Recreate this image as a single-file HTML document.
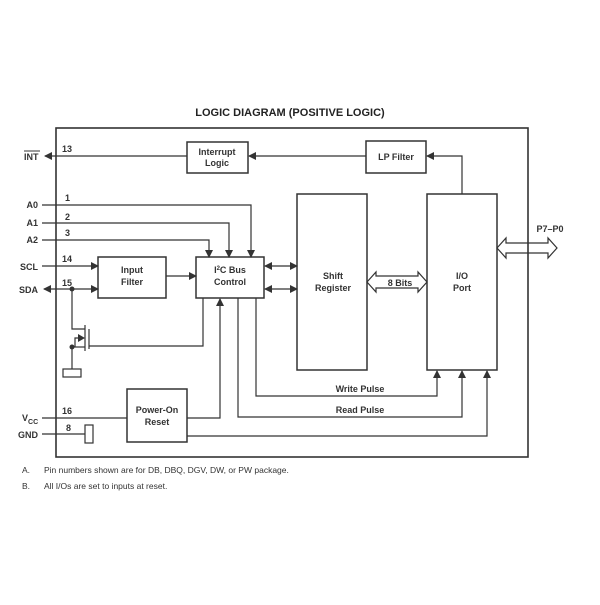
<!DOCTYPE html>
<html><head><style>
body{margin:0;background:#fff}
svg text{font-family:"Liberation Sans",sans-serif;fill:#333}
</style></head><body>
<svg width="600" height="600" viewBox="0 0 600 600" xmlns="http://www.w3.org/2000/svg">
<defs>
<marker id="a" markerWidth="8" markerHeight="8" refX="7" refY="4" orient="auto" markerUnits="userSpaceOnUse"><path d="M0,0 L8,4 L0,8 z" fill="#333"/></marker>
<marker id="s" markerWidth="8" markerHeight="8" refX="1" refY="4" orient="auto" markerUnits="userSpaceOnUse"><path d="M8,0 L0,4 L8,8 z" fill="#333"/></marker>
</defs>
<text x="290" y="116" font-size="11" font-weight="bold" text-anchor="middle" style="fill:#222">LOGIC DIAGRAM (POSITIVE LOGIC)</text>
<g stroke="#333" fill="none" stroke-width="1.2">
<rect x="56" y="128" width="472" height="329" stroke-width="1.6"/>
<rect x="187" y="142" width="61" height="31" stroke-width="1.5"/>
<rect x="366" y="141" width="60" height="32" stroke-width="1.5"/>
<rect x="297" y="194" width="70" height="176" stroke-width="1.5"/>
<rect x="427" y="194" width="70" height="176" stroke-width="1.5"/>
<rect x="98" y="257" width="68" height="41" stroke-width="1.5"/>
<rect x="196" y="257" width="68" height="41" stroke-width="1.5"/>
<rect x="127" y="389" width="60" height="53" stroke-width="1.5"/>
<line x1="187" y1="156" x2="45" y2="156" marker-end="url(#a)"/>
<line x1="366" y1="156" x2="249" y2="156" marker-end="url(#a)"/>
<polyline points="462,194 462,156 427,156" marker-end="url(#a)"/>
<polyline points="42,205 251,205 251,257" marker-end="url(#a)"/>
<polyline points="42,223 229,223 229,257" marker-end="url(#a)"/>
<polyline points="42,240 209,240 209,257" marker-end="url(#a)"/>
<line x1="42" y1="266" x2="98" y2="266" marker-end="url(#a)"/>
<line x1="44" y1="289" x2="98" y2="289" marker-start="url(#s)" marker-end="url(#a)"/>
<line x1="166" y1="276" x2="196" y2="276" marker-end="url(#a)"/>
<line x1="265" y1="266" x2="297" y2="266" marker-start="url(#s)" marker-end="url(#a)"/>
<line x1="265" y1="289" x2="297" y2="289" marker-start="url(#s)" marker-end="url(#a)"/>
<polyline points="72,289 72,329 85,329"/>
<polyline points="72,347 85,347"/>
<polyline points="75,347 75,338 80,338"/>
<line x1="85" y1="325" x2="85" y2="351"/>
<line x1="89" y1="329" x2="89" y2="349"/>
<polyline points="203,298 203,346 89,346"/>
<line x1="72" y1="347" x2="72" y2="369"/>
<rect x="63" y="369" width="18" height="8"/>
<polyline points="187,418 220,418 220,299" marker-end="url(#a)"/>
<polyline points="238,298 238,417 462,417 462,371" marker-end="url(#a)"/>
<polyline points="256,298 256,396 437,396 437,371" marker-end="url(#a)"/>
<polyline points="187,436 487,436 487,371" marker-end="url(#a)"/>
<line x1="42" y1="418" x2="127" y2="418"/>
<line x1="42" y1="434" x2="85" y2="434"/>
<rect x="85" y="425" width="8" height="18"/>
<path d="M367,282 L376,272 L376,276 L418,276 L418,272 L427,282 L418,292 L418,288 L376,288 L376,292 Z"/>
<path d="M497,248 L506,238 L506,243 L548,243 L548,238 L557,248 L548,258 L548,253 L506,253 L506,258 Z"/>
</g>
<path d="M85,338 L78,334 L78,342 Z" fill="#333"/>
<circle cx="72" cy="289" r="2.5" fill="#333"/>
<circle cx="72" cy="347" r="2.5" fill="#333"/>
<g font-size="9" font-weight="bold">
<text x="24" y="160">INT</text><line x1="24" y1="151" x2="40" y2="151" stroke="#333" stroke-width="1"/>
<text x="62" y="152">13</text>
<text x="217" y="155" text-anchor="middle">Interrupt</text><text x="217" y="166" text-anchor="middle">Logic</text>
<text x="396" y="160" text-anchor="middle">LP Filter</text>
<text x="38" y="208" text-anchor="end">A0</text><text x="38" y="226" text-anchor="end">A1</text><text x="38" y="243" text-anchor="end">A2</text>
<text x="65" y="201">1</text><text x="65" y="220">2</text><text x="65" y="236">3</text>
<text x="38" y="270" text-anchor="end">SCL</text><text x="38" y="293" text-anchor="end">SDA</text>
<text x="62" y="262">14</text><text x="62" y="286">15</text>
<text x="132" y="273" text-anchor="middle">Input</text><text x="132" y="285" text-anchor="middle">Filter</text>
<text x="230" y="273" text-anchor="middle">I<tspan font-size="6" dy="-3">2</tspan><tspan dy="3">C Bus</tspan></text><text x="230" y="285" text-anchor="middle">Control</text>
<text x="333" y="279" text-anchor="middle">Shift</text><text x="333" y="291" text-anchor="middle">Register</text>
<text x="400" y="286" text-anchor="middle">8 Bits</text>
<text x="462" y="279" text-anchor="middle">I/O</text><text x="462" y="291" text-anchor="middle">Port</text>
<text x="550" y="232" text-anchor="middle">P7–P0</text>
<text x="360" y="392" text-anchor="middle">Write Pulse</text>
<text x="360" y="413" text-anchor="middle">Read Pulse</text>
<text x="157" y="413" text-anchor="middle">Power-On</text><text x="157" y="425" text-anchor="middle">Reset</text>
<text x="22" y="421">V<tspan font-size="7" dy="3">CC</tspan></text>
<text x="18" y="438">GND</text>
<text x="62" y="414">16</text><text x="66" y="431">8</text>
</g>
<g font-size="8.5">
<text x="22" y="473">A.</text><text x="44" y="473">Pin numbers shown are for DB, DBQ, DGV, DW, or PW package.</text>
<text x="22" y="489">B.</text><text x="44" y="489">All I/Os are set to inputs at reset.</text>
</g>
</svg>
</body></html>
